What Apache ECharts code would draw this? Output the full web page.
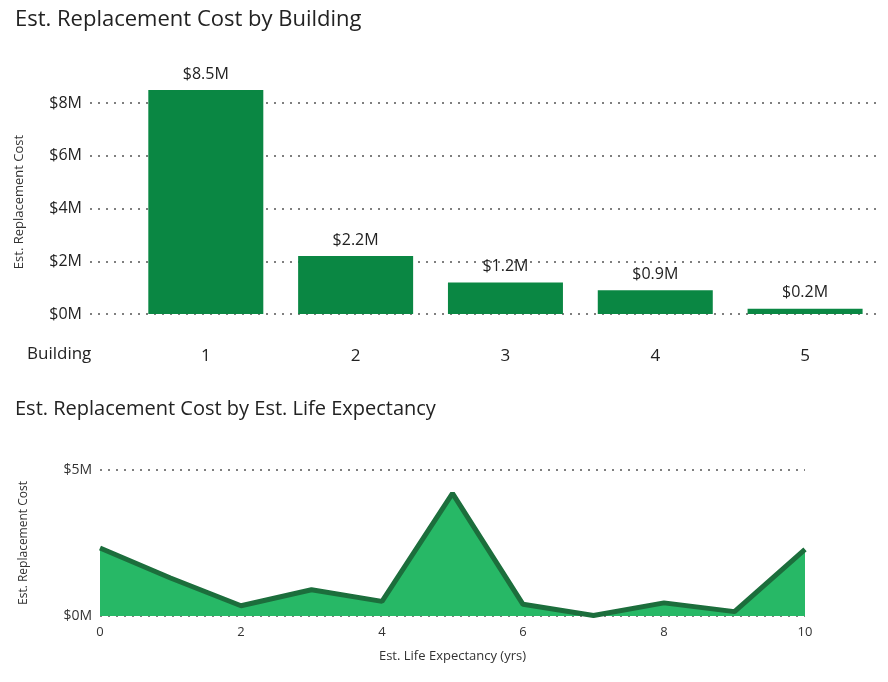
<!DOCTYPE html>
<html>
<head>
<meta charset="UTF-8">
<script src="https://cdn.jsdelivr.net/npm/echarts@6/dist/echarts.min.js"></script>
</head>
<body style="margin:0">
<div id="c" style="width:888px;height:682px"></div>
<script>
var buildings = [1, 2, 3, 4, 5];
var buildingCost = [8.5, 2.2, 1.2, 0.9, 0.2];
var lifeYears = [0, 1, 2, 3, 4, 5, 6, 7, 8, 9, 10];
var lifeCost = [2.33, 1.3, 0.35, 0.9, 0.5, 4.2, 0.4, 0.02, 0.45, 0.15, 2.28];

var font = '"Open Sans", "Noto Sans", sans-serif';
var chart = echarts.init(document.getElementById('c'));
var dotted = { show: true, lineStyle: { type: [2, 6], color: '#555', width: 1.5 } };

chart.setOption({
  animation: false,
  textStyle: { fontFamily: font },
  title: [
    { text: 'Est. Replacement Cost by Building', left: 10, top: 4, textStyle: { fontSize: 22, fontWeight: 'normal', color: '#222' } },
    { text: 'Est. Replacement Cost by Est. Life Expectancy', left: 10, top: 394, textStyle: { fontSize: 20, fontWeight: 'normal', color: '#222' } }
  ],
  graphic: [{ type: 'text', left: 27, top: 346, style: { text: 'Building', fontSize: 17, fill: '#222', fontFamily: font } }],
  grid: [
    { left: 90, right: 8, top: 90, bottom: 368 },
    { left: 100, right: 83, top: 470, bottom: 66 }
  ],
  xAxis: [
    { type: 'value', gridIndex: 0, min: 0.227, max: 5.5, splitLine: { show: false },
      axisLine: { show: false }, axisTick: { show: false },
      axisLabel: { customValues: buildings, fontSize: 17, color: '#222', margin: 34 } },
    { type: 'value', gridIndex: 1, min: 0, max: 10, interval: 2, splitLine: { show: false },
      axisLine: { show: false }, axisTick: { show: false },
      axisLabel: { fontSize: 13, color: '#333', margin: 10 },
      name: 'Est. Life Expectancy (yrs)', nameLocation: 'middle', nameGap: 34,
      nameTextStyle: { fontSize: 13, color: '#333' } }
  ],
  yAxis: [
    { type: 'value', gridIndex: 0, min: 0, max: 8.5, interval: 2,
      splitLine: Object.assign({ showMaxLine: false }, dotted),
      axisLine: { show: false }, axisTick: { show: false },
      axisLabel: { fontSize: 16, color: '#222', showMaxLabel: false, formatter: function (v) { return '$' + v + 'M'; } },
      name: 'Est. Replacement Cost', nameLocation: 'middle', nameGap: 64, nameTextStyle: { fontSize: 13, color: '#333' } },
    { type: 'value', gridIndex: 1, min: 0, max: 5, interval: 5, splitLine: dotted,
      axisLine: { show: false }, axisTick: { show: false },
      axisLabel: { fontSize: 14, color: '#333', formatter: function (v) { return '$' + v + 'M'; } },
      name: 'Est. Replacement Cost', nameLocation: 'middle', nameGap: 70, nameTextStyle: { fontSize: 12, color: '#333' } }
  ],
  series: [
    { type: 'bar', xAxisIndex: 0, yAxisIndex: 0, barWidth: 115,
      data: buildings.map(function (b, i) { return [b, buildingCost[i]]; }),
      itemStyle: { color: '#0a8743' },
      label: { show: true, position: 'top', fontSize: 16, color: '#222', distance: 8,
        formatter: function (p) { return '$' + p.value[1].toFixed(1) + 'M'; } } },
    { type: 'line', xAxisIndex: 1, yAxisIndex: 1, symbol: 'none',
      data: lifeYears.map(function (x, i) { return [x, lifeCost[i]]; }),
      lineStyle: { color: '#1c6e3c', width: 5 },
      areaStyle: { color: '#27b866', opacity: 1 } }
  ]
});
</script>
</body>
</html>
